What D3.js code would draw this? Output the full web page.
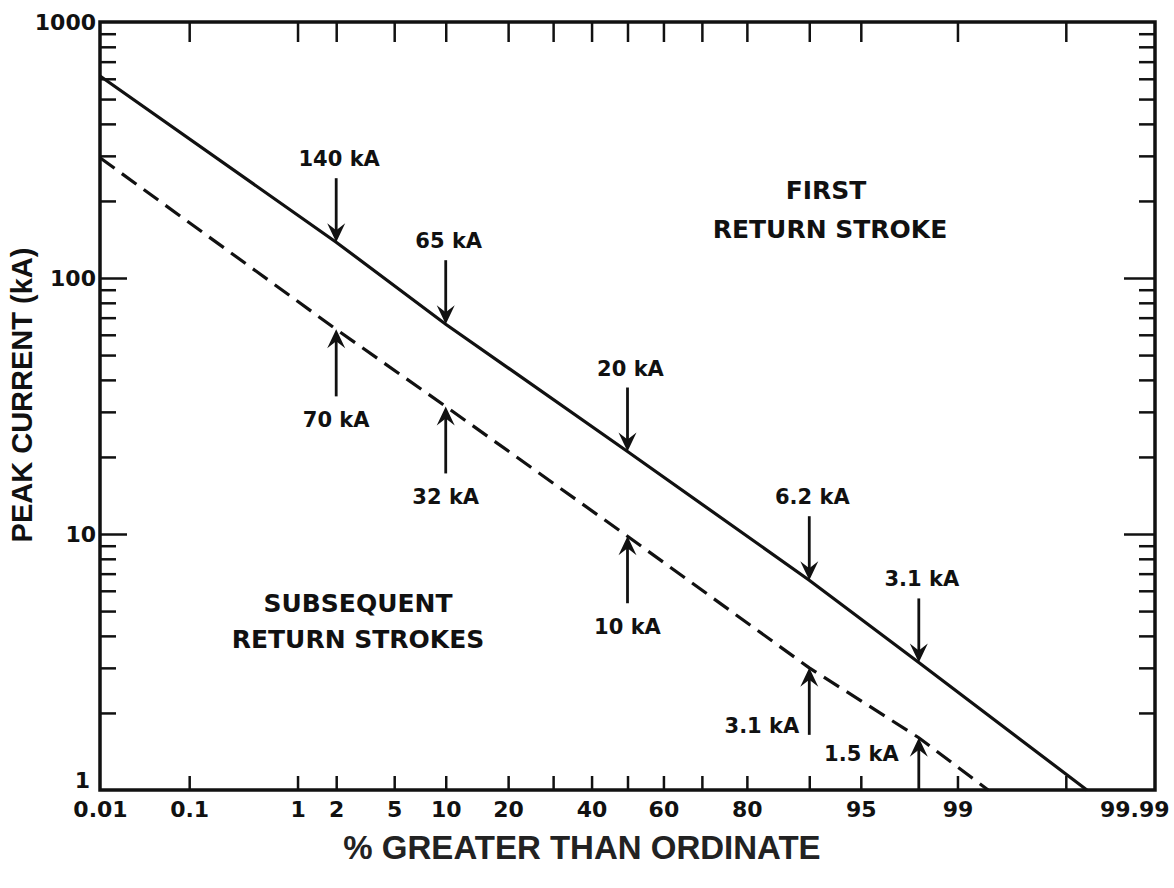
<!DOCTYPE html>
<html><head><meta charset="utf-8">
<script src="https://cdn.jsdelivr.net/npm/d3@7"></script>
<style>body{margin:0;background:#fff}</style>
</head><body><svg id="c" width="1174" height="888"></svg>
<script>
// ---- data ----
const firstPct = [0.01, 2, 10, 50, 90, 98, 99.94];
const firstKA  = [615, 138, 66, 21, 6.6, 3.15, 1];
const subPct   = [0.01, 2, 10, 50, 90, 98, 99.45];
const subKA    = [295, 63, 31.5, 9.8, 3.0, 1.6, 1];
const firstNotePct  = [2, 10, 50, 90, 98];
const firstNoteKA   = [138, 66, 21, 6.6, 3.15];
const firstNoteText = ["140 kA", "65 kA", "20 kA", "6.2 kA", "3.1 kA"];
const subNotePct  = [2, 10, 50, 90, 98];
const subNoteKA   = [63, 31.5, 9.8, 3.0, 1.6];
const subNoteText = ["70 kA", "32 kA", "10 kA", "3.1 kA", "1.5 kA"];
const xTickPct   = [0.1, 1, 2, 5, 10, 20, 30, 40, 50, 60, 70, 80, 90, 95, 99, 99.9];
const xLabelPct  = [0.01, 0.1, 1, 2, 5, 10, 20, 40, 60, 80, 95, 99, 99.99];
const xLabelText = ["0.01", "0.1", "1", "2", "5", "10", "20", "40", "60", "80", "95", "99", "99.99"];
const yLabelVals = [1, 10, 100, 1000];
const yLabelText = ["1", "10", "100", "1000"];

// inverse normal CDF (probability-paper scale)
function probit(p){
 const a=[-3.969683028665376e+01,2.209460984245205e+02,-2.759285104469687e+02,1.383577518672690e+02,-3.066479806614716e+01,2.506628277459239e+00];
 const b=[-5.447609879822406e+01,1.615858368580409e+02,-1.556989798598866e+02,6.680131188771972e+01,-1.328068155288572e+01];
 const c=[-7.784894002430293e-03,-3.223964580411365e-01,-2.400758277161838e+00,-2.549732539343734e+00,4.374664141464968e+00,2.938163982698783e+00];
 const d=[7.784695709041462e-03,3.224671290700398e-01,2.445134137142996e+00,3.754408661907416e+00];
 const pl=0.02425, ph=1-pl; let q,r;
 if(p<pl){q=Math.sqrt(-2*Math.log(p));return (((((c[0]*q+c[1])*q+c[2])*q+c[3])*q+c[4])*q+c[5])/((((d[0]*q+d[1])*q+d[2])*q+d[3])*q+1);}
 if(p<=ph){q=p-0.5;r=q*q;return (((((a[0]*r+a[1])*r+a[2])*r+a[3])*r+a[4])*r+a[5])*q/(((((b[0]*r+b[1])*r+b[2])*r+b[3])*r+b[4])*r+1);}
 q=Math.sqrt(-2*Math.log(1-p));return -(((((c[0]*q+c[1])*q+c[2])*q+c[3])*q+c[4])*q+c[5])/((((d[0]*q+d[1])*q+d[2])*q+d[3])*q+1);
}

const L=100, R=1155, T=22, B=790;
const svg = d3.select("#c");
const zScale = d3.scaleLinear().domain([probit(0.0001), probit(0.9999)]).range([L, R]);
const px = p => zScale(probit(p/100));
const y = d3.scaleLog().domain([1, 1000]).range([B, T]);

const tickFont = "'DejaVu Sans', sans-serif";

// bottom ticks (pointing up)
svg.append("g").attr("transform", `translate(0,${B})`)
  .call(d3.axisBottom(zScale).tickValues(xTickPct.map(p=>probit(p/100))).tickFormat("").tickSizeInner(-14).tickSizeOuter(0));
// top ticks (pointing down)
svg.append("g").attr("transform", `translate(0,${T})`)
  .call(d3.axisTop(zScale).tickValues(xTickPct.map(p=>probit(p/100))).tickFormat("").tickSizeInner(-20).tickSizeOuter(0));
// bottom labels
const gBL = svg.append("g").attr("transform", `translate(0,${B})`)
  .call(d3.axisBottom(zScale).tickValues(xLabelPct.map(p=>probit(p/100)))
    .tickFormat((d,i)=>xLabelText[i]).tickSize(0).tickPadding(11));

// y ticks
const minorY = y.ticks().filter(v => !yLabelVals.includes(v));
const majorY = [10, 100];
svg.append("g").attr("transform", `translate(${L},0)`)
  .call(d3.axisLeft(y).tickValues(minorY).tickFormat("").tickSizeInner(-16).tickSizeOuter(0));
svg.append("g").attr("transform", `translate(${L},0)`)
  .call(d3.axisLeft(y).tickValues(majorY).tickFormat("").tickSizeInner(-27).tickSizeOuter(0));
svg.append("g").attr("transform", `translate(${R},0)`)
  .call(d3.axisRight(y).tickValues(minorY).tickFormat("").tickSizeInner(-16).tickSizeOuter(0));
svg.append("g").attr("transform", `translate(${R},0)`)
  .call(d3.axisRight(y).tickValues(majorY).tickFormat("").tickSizeInner(-31).tickSizeOuter(0));
const gYL = svg.append("g").attr("transform", `translate(${L},0)`)
  .call(d3.axisLeft(y).tickValues(yLabelVals).tickFormat((d,i)=>yLabelText[i]).tickSize(0).tickPadding(4));

svg.selectAll(".domain").remove();
svg.selectAll(".tick line").attr("stroke","#111").attr("stroke-width",2.5);
svg.selectAll(".tick text").attr("fill","#111").attr("font-family",tickFont)
  .attr("font-weight","bold").attr("font-size",22);

// first y label "1" sits above the corner; last x label kept inside the page
gYL.selectAll(".tick text").filter(d=>d===1).attr("dy","-0.1em").attr("x",-10);
gBL.selectAll(".tick text").filter((d,i)=>i===xLabelPct.length-1).attr("text-anchor","end").attr("dx",14);

// frame
svg.append("rect").attr("x",L).attr("y",T).attr("width",R-L).attr("height",B-T)
  .attr("fill","none").attr("stroke","#111").attr("stroke-width",3.5);

// lines
const line = d3.line().x(d=>px(d[0])).y(d=>y(d[1]));
svg.append("path").datum(firstPct.map((p,i)=>[p, firstKA[i]])).attr("d", line)
  .attr("fill","none").attr("stroke","#111").attr("stroke-width",3.2);
svg.append("path").datum(subPct.map((p,i)=>[p, subKA[i]])).attr("d", line)
  .attr("fill","none").attr("stroke","#111").attr("stroke-width",3.2).attr("stroke-dasharray","18,9");

// arrows
function arrowHead(x, yTip, dir){ // dir=+1 pointing down, -1 pointing up
  const h=19, w=9, n=12;
  return `M${x},${yTip} L${x-w},${yTip-dir*h} L${x},${yTip-dir*n} L${x+w},${yTip-dir*h} Z`;
}
const ann = svg.append("g");
const labSize = 21;
firstNotePct.forEach((p,i)=>{
  const x = px(p), tip = y(firstNoteKA[i]);
  ann.append("line").attr("x1",x).attr("x2",x).attr("y1",tip-64).attr("y2",tip-8)
    .attr("stroke","#111").attr("stroke-width",2.8);
  ann.append("path").attr("d", arrowHead(x, tip, 1)).attr("fill","#111");
  ann.append("text").attr("x",x+3).attr("y",tip-82).attr("text-anchor","middle").attr("dominant-baseline","middle")
    .attr("font-family",tickFont).attr("font-weight","bold").attr("font-size",labSize).attr("fill","#111")
    .text(firstNoteText[i]);
});
subNotePct.forEach((p,i)=>{
  const x = px(p), tip = y(subNoteKA[i]);
  const tail = i===4 ? B : tip+67;
  ann.append("line").attr("x1",x).attr("x2",x).attr("y1",tip+8).attr("y2",tail)
    .attr("stroke","#111").attr("stroke-width",2.8);
  ann.append("path").attr("d", arrowHead(x, tip, -1)).attr("fill","#111");
  const t = ann.append("text").attr("dominant-baseline","middle")
    .attr("font-family",tickFont).attr("font-weight","bold").attr("font-size",labSize).attr("fill","#111")
    .text(subNoteText[i]);
  if(i<3) t.attr("x",x).attr("y",tip+92).attr("text-anchor","middle");
  else if(i===3) t.attr("x",x-10).attr("y",tail-8).attr("text-anchor","end");
  else t.attr("x",x-20).attr("y",tip+17).attr("text-anchor","end");
});

// region labels
const regFont = 25;
[["FIRST",826,192],["RETURN STROKE",830,231],["SUBSEQUENT",358,605],["RETURN STROKES",358,641]].forEach(d=>{
  svg.append("text").attr("x",d[1]).attr("y",d[2]).attr("text-anchor","middle").attr("dominant-baseline","middle")
    .attr("font-family",tickFont).attr("font-weight","bold").attr("font-size",regFont).attr("fill","#111").text(d[0]);
});

// axis titles
svg.append("text").attr("x",582).attr("y",850).attr("text-anchor","middle").attr("dominant-baseline","middle")
  .attr("font-family","'Liberation Sans', Arial, sans-serif").attr("font-weight","bold").attr("font-size",33)
  .attr("fill","#222").text("% GREATER THAN ORDINATE");
svg.append("text").attr("transform","translate(24,395) rotate(-90)").attr("text-anchor","middle").attr("dominant-baseline","middle")
  .attr("font-family","'Liberation Sans', Arial, sans-serif").attr("font-weight","bold").attr("font-size",29)
  .attr("fill","#111").text("PEAK CURRENT (kA)");
</script>
</body></html>
